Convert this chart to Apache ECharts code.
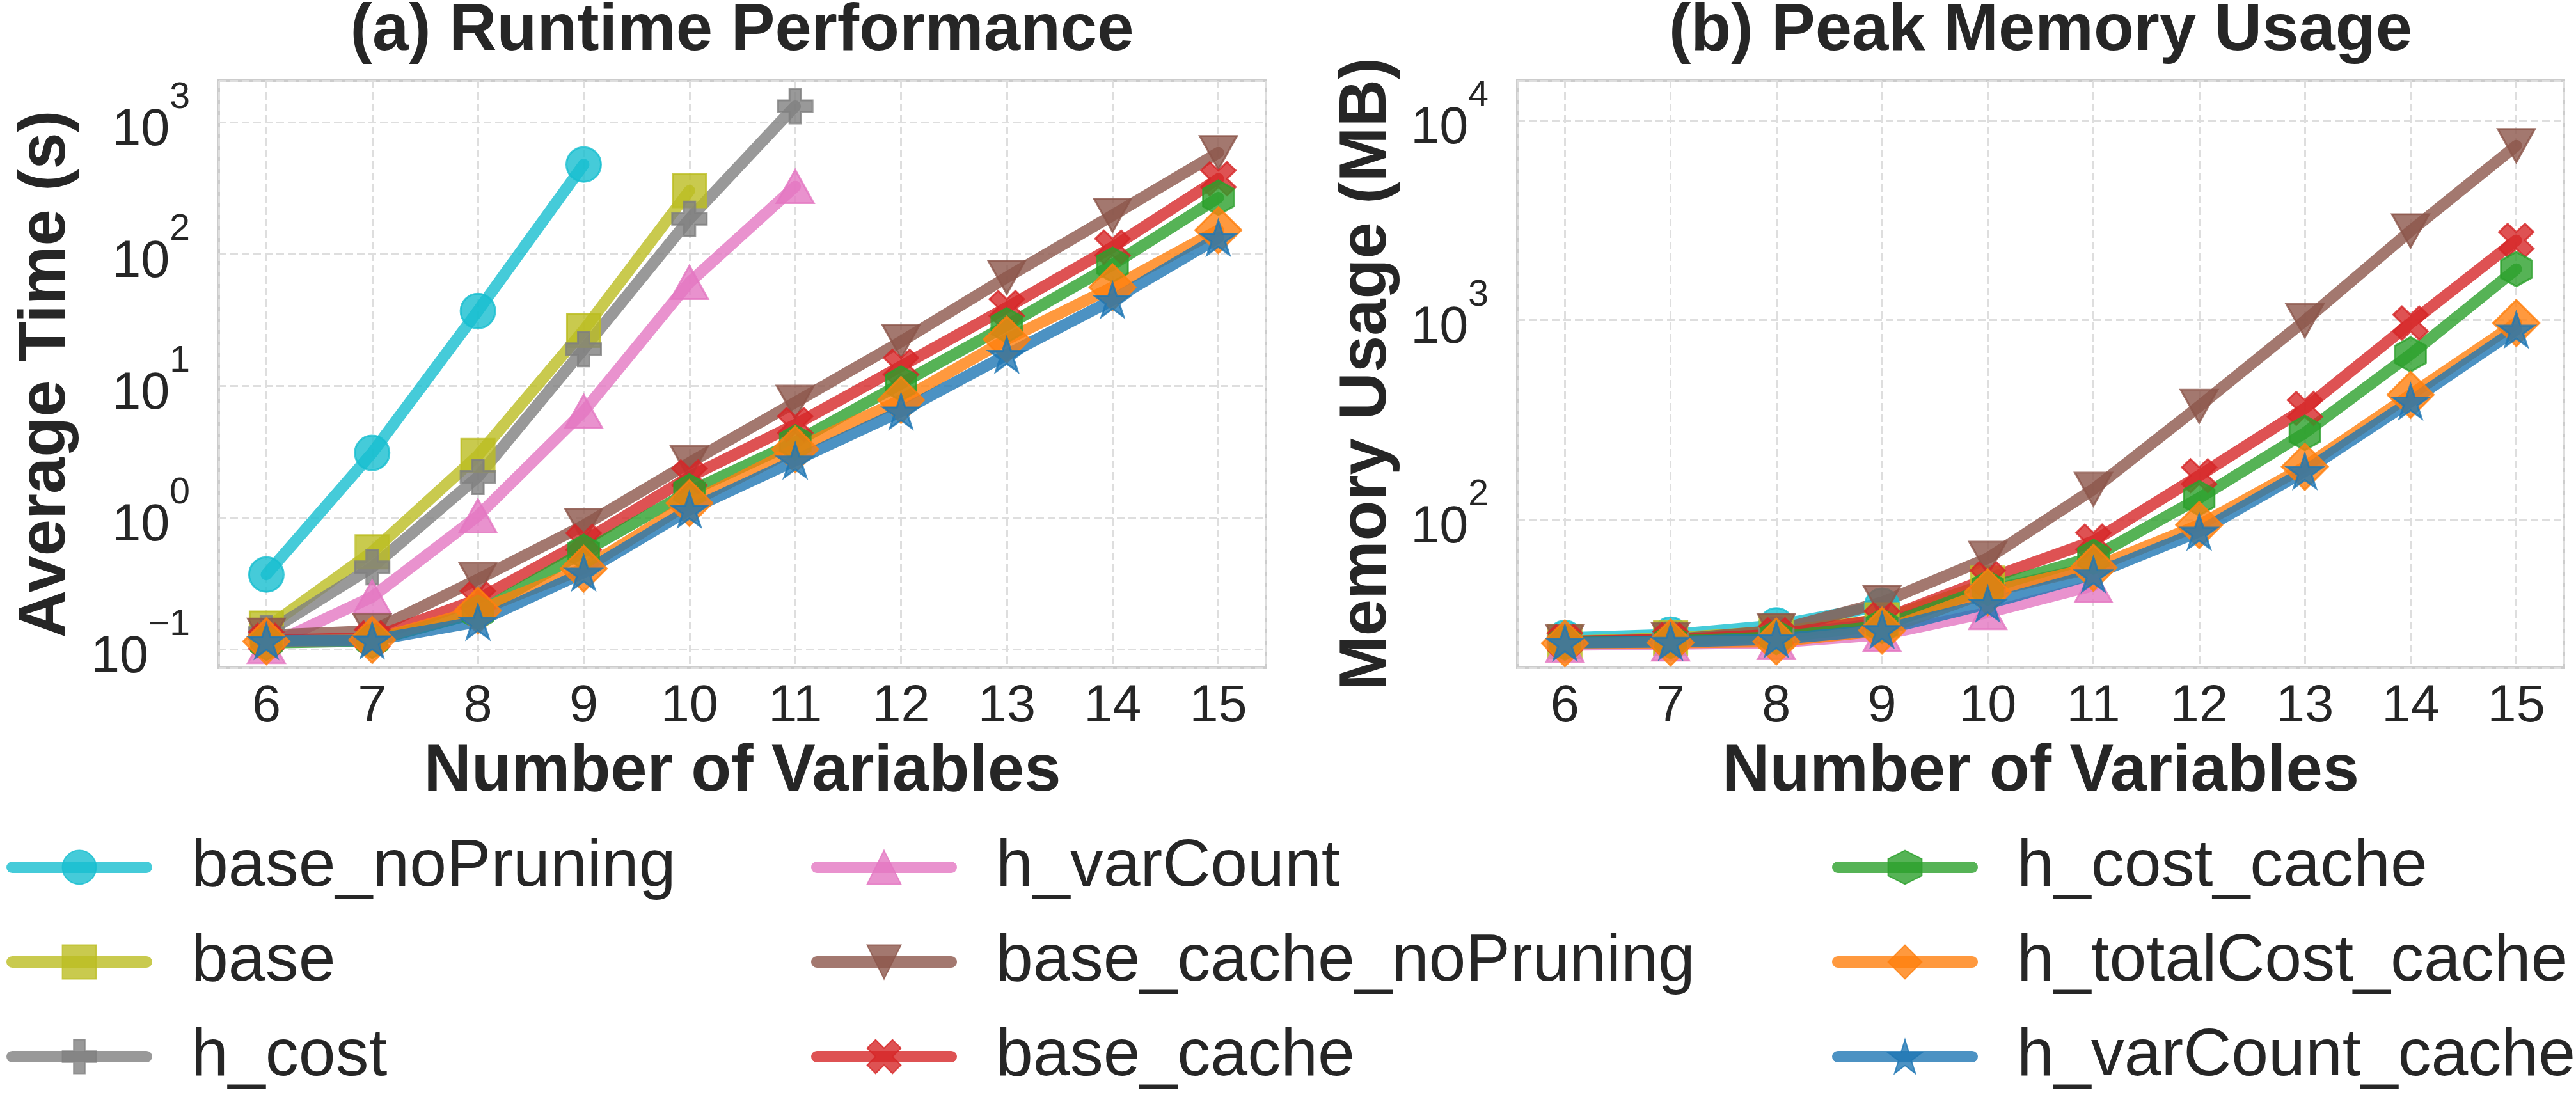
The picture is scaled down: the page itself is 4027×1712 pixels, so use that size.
<!DOCTYPE html>
<html>
<head>
<meta charset="utf-8">
<script src="https://cdn.jsdelivr.net/npm/echarts@6/dist/echarts.min.js"></script>
<style>html,body{margin:0;padding:0;background:#fff;}#c{width:4027px;height:1712px;}</style>
</head>
<body>
<div id="c"></div>
<script>
// ---------- data ----------
const xVars = [6, 7, 8, 9, 10, 11, 12, 13, 14, 15];
const seriesNames = ['base_noPruning', 'base', 'h_cost', 'h_varCount', 'base_cache_noPruning',
  'base_cache', 'h_cost_cache', 'h_totalCost_cache', 'h_varCount_cache'];

// Average time (s)
const time_base_noPruning = [0.37, 3.1, 37, 479];
const time_base = [0.145, 0.55, 2.96, 26.4, 303];
const time_h_cost = [0.133, 0.42, 2.04, 19, 185, 1327];
const time_h_varCount = [0.105, 0.25, 1.03, 6.4, 61, 326];
const time_base_cache_noPruning = [0.128, 0.138, 0.34, 0.873, 2.61, 7.5, 21.7, 66.7, 197, 589];
const time_base_cache = [0.117, 0.122, 0.24, 0.66, 2.04, 5.08, 14.1, 39.3, 113, 373];
const time_h_cost_cache = [0.112, 0.116, 0.19, 0.55, 1.58, 3.73, 10.4, 28.8, 83, 268];
const time_h_totalCost_cache = [0.115, 0.118, 0.197, 0.41, 1.29, 3.3, 7.8, 22.5, 56, 152];
const time_h_varCount_cache = [0.116, 0.117, 0.162, 0.383, 1.15, 2.71, 6.4, 17.2, 44.9, 133];

// Peak memory (MB)
const mem_base_noPruning = [25.5, 26.5, 29.5, 37];
const mem_base = [24.5, 25.5, 27.5, 31.5, 48];
const mem_h_cost = [24.3, 25, 26.5, 30, 44, 58];
const mem_h_varCount = [23.5, 23.8, 24.2, 26.5, 34.2, 46.7];
const mem_base_cache_noPruning = [24.4, 25, 27.8, 38.5, 64, 142, 370, 993, 2800, 7480];
const mem_base_cache = [24.5, 25, 26.5, 31.6, 50.5, 78, 166, 361, 966, 2510];
const mem_h_cost_cache = [24.2, 24.6, 25.8, 29.3, 45.5, 65, 128, 272, 673, 1800];
const mem_h_totalCost_cache = [24, 24.2, 24.5, 27.8, 43.3, 57.4, 94, 184, 422, 966];
const mem_h_varCount_cache = [24.2, 24.4, 25.2, 28, 37.9, 53.2, 87, 175, 391, 896];

const timeData = [time_base_noPruning, time_base, time_h_cost, time_h_varCount, time_base_cache_noPruning,
  time_base_cache, time_h_cost_cache, time_h_totalCost_cache, time_h_varCount_cache];
const memData = [mem_base_noPruning, mem_base, mem_h_cost, mem_h_varCount, mem_base_cache_noPruning,
  mem_base_cache, mem_h_cost_cache, mem_h_totalCost_cache, mem_h_varCount_cache];

// ---------- styles ----------
const colors = ['#17becf', '#bcbd22', '#7f7f7f', '#e377c2', '#8c564b', '#d62728', '#2ca02c', '#ff7f0e', '#1f77b4'];
const PLUS = 'path://M-1,-3H1V-1H3V1H1V3H-1V1H-3V-1H-1Z';
const XMARK = 'path://M1.414,-2.828L2.828,-1.414L1.414,0L2.828,1.414L1.414,2.828L0,1.414L-1.414,2.828L-2.828,1.414L-1.414,0L-2.828,-1.414L-1.414,-2.828L0,-1.414Z';
const HEX = 'path://M0,-1L0.866,-0.5L0.866,0.5L0,1L-0.866,0.5L-0.866,-0.5Z';
const STAR = 'path://M0,-1L0.2245,-0.309L0.9511,-0.309L0.3633,0.118L0.5878,0.809L0,0.382L-0.5878,0.809L-0.3633,0.118L-0.9511,-0.309L-0.2245,-0.309Z';
const markers = [
  {symbol: 'circle', size: 54, rot: 0},
  {symbol: 'rect', size: 52, rot: 0},
  {symbol: PLUS, size: 54, rot: 0},
  {symbol: 'triangle', size: [58, 52], rot: 0},
  {symbol: 'triangle', size: [58, 52], rot: 180},
  {symbol: XMARK, size: [54, 52], rot: 0},
  {symbol: HEX, size: [48, 54], rot: 0},
  {symbol: 'diamond', size: [72, 72], rot: 0},
  {symbol: STAR, size: [56, 53], rot: 0}
];

const FONT = 'Liberation Sans';
const TXT = '#262626';

function makeSeries(dataSets, axisIndex) {
  return dataSets.map((vals, i) => ({
    name: seriesNames[i],
    type: 'line',
    xAxisIndex: axisIndex,
    yAxisIndex: axisIndex,
    data: vals.map((v, j) => [xVars[j], v]),
    symbol: markers[i].symbol,
    symbolSize: markers[i].size,
    symbolRotate: markers[i].rot,
    showSymbol: true,
    showAllSymbol: true,
    lineStyle: {color: colors[i], width: 18, opacity: 0.8, cap: 'round', join: 'round'},
    itemStyle: {color: colors[i], opacity: 0.8, borderColor: colors[i], borderWidth: 3},
    emphasis: {disabled: true},
    animation: false
  }));
}

function logLabel(v) {
  const e = Math.log10(v);
  const r = Math.round(e);
  if (Math.abs(e - r) > 1e-6) return '';
  const s = r < 0 ? '\u2212' + (-r) : String(r);
  return '{b|10}{s|' + s + '}';
}

function xAxisCfg(gi) {
  return {
    type: 'value', gridIndex: gi, min: 5.55, max: 15.45, splitNumber: 10,
    name: 'Number of Variables', nameLocation: 'middle', nameGap: 112,
    nameTextStyle: {fontFamily: FONT, fontWeight: 'bold', fontSize: 103, lineHeight: 103, color: TXT},
    axisLine: {show: false}, axisTick: {show: false},
    axisLabel: {
      fontFamily: FONT, fontSize: 81, lineHeight: 81, color: TXT, margin: 21,
      formatter: v => (Math.abs(v - Math.round(v)) < 1e-6 ? String(Math.round(v)) : '')
    },
    splitLine: {show: true, lineStyle: {color: '#dedede', width: 3, type: [12, 6]}}
  };
}

function yAxisCfg(gi, name, min, max, nameGap) {
  return {
    type: 'log', logBase: 10, gridIndex: gi, min: min, max: max, splitNumber: 5,
    name: name, nameLocation: 'middle', nameGap: nameGap,
    nameTextStyle: {fontFamily: FONT, fontWeight: 'bold', fontSize: 103, lineHeight: 103, color: TXT},
    axisLine: {show: false}, axisTick: {show: false},
    minorTick: {show: false}, minorSplitLine: {show: false},
    axisLabel: {
      margin: 45, color: TXT, fontFamily: FONT,
      formatter: logLabel,
      rich: {
        b: {fontFamily: FONT, fontSize: 81, color: TXT, padding: [26, 0, 0, 0]},
        s: {fontFamily: FONT, fontSize: 57, color: TXT, padding: [0, 0, 76, 0]}
      }
    },
    splitLine: {show: true, lineStyle: {color: '#dedede', width: 3, type: [12, 6]}}
  };
}

function legendCfg(left, names) {
  return {
    orient: 'vertical', left: left, top: 1304, padding: 0,
    itemWidth: 210, itemHeight: 66, itemGap: 44,
    selectedMode: false,
    data: names,
    textStyle: {fontFamily: FONT, fontSize: 104, lineHeight: 104, color: TXT, padding: [0, 0, 0, 65]},
    lineStyle: {width: 18, cap: 'round', opacity: 0.8},
    itemStyle: {opacity: 0.8}
  };
}

const chart = echarts.init(document.getElementById('c'), null, {renderer: 'canvas', width: 4027, height: 1712});
chart.setOption({
  backgroundColor: '#ffffff',
  animation: false,
  title: [
    {text: '(a) Runtime Performance', left: 1160, top: -2, padding: 0, textAlign: 'center',
      textStyle: {fontFamily: FONT, fontWeight: 'bold', fontSize: 103, lineHeight: 103, color: TXT}},
    {text: '(b) Peak Memory Usage', left: 3190, top: -2, padding: 0, textAlign: 'center',
      textStyle: {fontFamily: FONT, fontWeight: 'bold', fontSize: 103, lineHeight: 103, color: TXT}}
  ],
  grid: [
    {left: 342, top: 126, width: 1637, height: 918, show: true, borderColor: '#cccccc', borderWidth: 4,
      backgroundColor: 'transparent', containLabel: false, outerBoundsMode: 'none'},
    {left: 2372, top: 126, width: 1636, height: 918, show: true, borderColor: '#cccccc', borderWidth: 4,
      backgroundColor: 'transparent', containLabel: false, outerBoundsMode: 'none'}
  ],
  xAxis: [xAxisCfg(0), xAxisCfg(1)],
  yAxis: [
    yAxisCfg(0, 'Average Time (s)', 0.0725, 2075, 218),
    yAxisCfg(1, 'Memory Usage (MB)', 18.1, 15850, 183)
  ],
  legend: [
    legendCfg(10, seriesNames.slice(0, 3)),
    legendCfg(1268, seriesNames.slice(3, 6)),
    legendCfg(2864, seriesNames.slice(6, 9))
  ],
  series: [...makeSeries(timeData, 0), ...makeSeries(memData, 1)]
});
</script>
</body>
</html>
